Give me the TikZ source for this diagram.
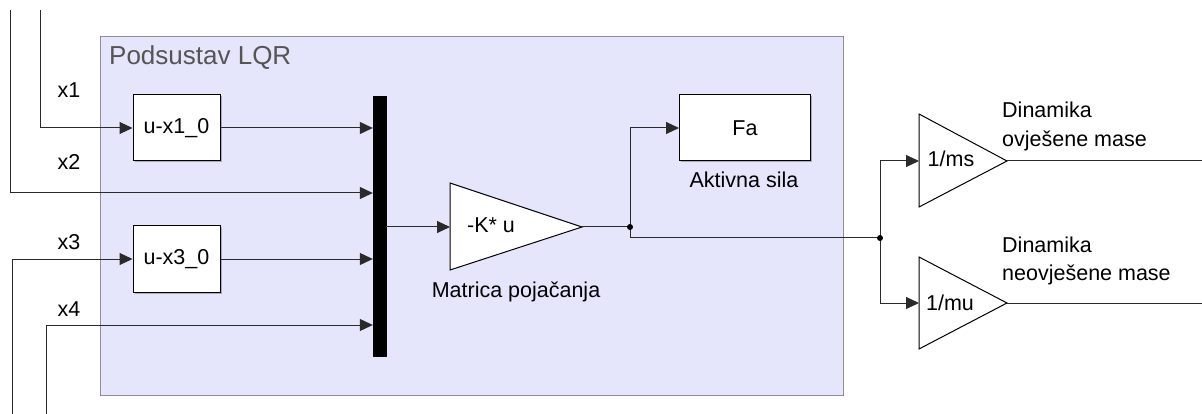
\documentclass[tikz,border=0pt]{standalone}
\usepackage{fontspec}
\setmainfont{Liberation Sans}
\usetikzlibrary{arrows.meta,calc,shadows}
\definecolor{sysfill}{HTML}{E5E5FB}
\definecolor{sysline}{HTML}{8E8E9C}
\definecolor{wire}{HTML}{2A2A2A}
\definecolor{titlegray}{HTML}{555555}
\newcommand{\lblfont}{\fontsize{21.5}{25}\selectfont}
\begin{document}
\begin{tikzpicture}[x=1pt,y=-1pt,
  wire/.style={draw=wire, line width=1pt},
  sig/.style={wire, -{Triangle[length=13pt,width=12pt]}},
  blk/.style={draw=black, line width=1pt, fill=white, inner sep=0pt,
    minimum width=87pt, minimum height=66pt, font=\lblfont,
    drop shadow={shadow xshift=1.5pt, shadow yshift=-1.5pt, opacity=0.25, fill=black}},
  lbl/.style={font=\lblfont, inner sep=0pt, anchor=base},
  gaintri/.style={draw=black, line width=1pt, fill=white},
  dot/.style={circle, fill=black, inner sep=0pt, minimum size=6pt}
]
\useasboundingbox (0,0) rectangle (1202,414);

% subsystem area
\node[draw=sysline, line width=1pt, fill=sysfill, inner sep=0pt, anchor=north west,
  minimum width=743pt, minimum height=359pt] (sys) at (100,36) {};
\node[font=\fontsize{26}{29}\selectfont, text=titlegray, inner sep=0pt, anchor=base west] (title) at (109,65) {Podsustav LQR};

% blocks
\node[blk] (b1) at (176.5,128) {u-x1\_0};
\node[blk] (b3) at (176.5,259) {u-x3\_0};
\node[draw=black, fill=black, inner sep=0pt, minimum width=13pt, minimum height=260pt] (mux) at (379.5,226) {};
\node[blk, minimum width=131pt] (fa) at (745,128) {Fa};

% gain triangles
\coordinate (kin) at (450,227);
\coordinate (kout) at (582,227);
\draw[gaintri] (450,183) -- (kout) -- (450,270) -- cycle;
\node[lbl] (ktext) at (491,233) {-K* u};

\coordinate (msin) at (919,161);
\coordinate (msout) at (1007,161);
\draw[gaintri] (919,114) -- (msout) -- (919,207) -- cycle;
\node[lbl] (mstext) at (951,167) {1/ms};

\coordinate (muin) at (919,303);
\coordinate (muout) at (1007,303);
\draw[gaintri] (919,257) -- (muout) -- (919,349) -- cycle;
\node[lbl] (mutext) at (950,310) {1/mu};

% labels
\node[lbl] (lx1) at (69,98) {x1};
\node[lbl] (lx2) at (69,170) {x2};
\node[lbl] (lx3) at (69,250) {x3};
\node[lbl] (lx4) at (69,316) {x4};
\node[lbl] (lmat) at (516,297) {Matrica pojačanja};
\node[lbl] (lakt) at (744,188) {Aktivna sila};
\node[lbl, anchor=base west] (ld1a) at (1002,118) {Dinamika};
\node[lbl, anchor=base west] (ld1b) at (1002,147) {ovješene mase};
\node[lbl, anchor=base west] (ld2a) at (1002,252) {Dinamika};
\node[lbl, anchor=base west] (ld2b) at (1002,280) {neovješene mase};

% external wire ends
\coordinate (in1) at (40,10);
\coordinate (in2) at (10,10);
\coordinate (in3) at (12,414);
\coordinate (in4) at (46,414);
\coordinate (out1) at (1202,161);
\coordinate (out2) at (1202,303);

% inputs
\draw[sig] (in1) |- (b1.west);
\draw[sig] (in2) |- (mux.west |- 0,193);
\draw[sig] (in3) |- (b3.west);
\draw[sig] (in4) |- (mux.west |- 0,325);
\draw[sig] (b1.east) -- (b1.east -| mux.west);
\draw[sig] (b3.east) -- (b3.east -| mux.west);

% mux to gain
\draw[sig] (mux.east |- kin) -- (kin);

% gain output
\coordinate (j1) at (630,227);
\coordinate (j2) at (880,238);
\draw[wire] (kout) -- (j1);
\draw[sig] (j1) |- (fa.west);
\draw[wire] (j1) -- (630,238) -- (j2);
\draw[sig] (j2) |- (msin);
\draw[sig] (j2) |- (muin);
\node[dot] at (j1) {};
\node[dot] at (j2) {};

% outputs
\draw[wire] (msout) -- (out1);
\draw[wire] (muout) -- (out2);
\end{tikzpicture}
\end{document}
